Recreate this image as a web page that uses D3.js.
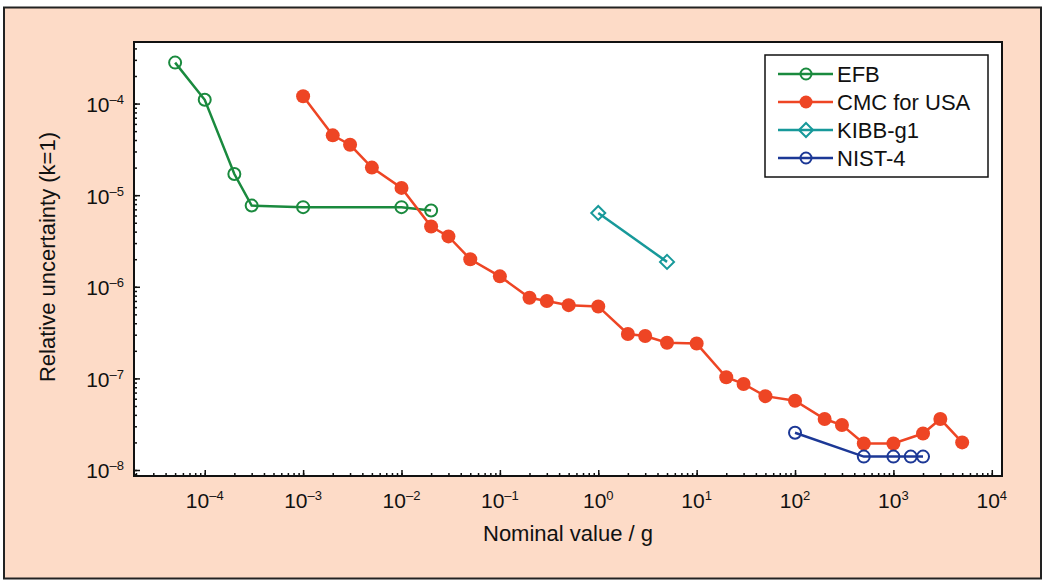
<!DOCTYPE html>
<html><head><meta charset="utf-8">
<script src="https://cdn.jsdelivr.net/npm/d3@7"></script>
<style>
html,body{margin:0;padding:0;background:#fff;}
text{font-family:"Liberation Sans",Arial,Helvetica,sans-serif;fill:#111;}
</style></head>
<body><svg id="c" width="1050" height="586"></svg>
<script>
// Data
const efbX = [5e-5, 1e-4, 2e-4, 3e-4, 1e-3, 1e-2, 2e-2];
const efbY = [2.8e-4, 1.1e-4, 1.7e-5, 7.7e-6, 7.4e-6, 7.4e-6, 6.8e-6];
const cmcX = [1e-3,2e-3,3e-3,5e-3,1e-2,2e-2,3e-2,5e-2,0.1,0.2,0.3,0.5,1,2,3,5,10,20,30,50,100,200,300,500,1000,2000,3000,5000];
const cmcY = [1.2e-4,4.5e-5,3.55e-5,2.0e-5,1.2e-5,4.55e-6,3.55e-6,2.0e-6,1.3e-6,7.6e-7,7.0e-7,6.3e-7,6.1e-7,3.05e-7,2.9e-7,2.45e-7,2.4e-7,1.03e-7,8.7e-8,6.4e-8,5.7e-8,3.6e-8,3.1e-8,1.95e-8,1.95e-8,2.5e-8,3.6e-8,2.0e-8];
const kibbX = [1, 5];
const kibbY = [6.4e-6, 1.87e-6];
const nistX = [100, 500, 1000, 1500, 2000];
const nistY = [2.55e-8, 1.4e-8, 1.4e-8, 1.4e-8, 1.4e-8];
const xTickExps = [-4,-3,-2,-1,0,1,2,3,4];
const yTickExps = [-4,-5,-6,-7,-8];
const seriesNames = ["EFB","CMC for USA","KIBB-g1","NIST-4"];

const svg = d3.select("#c");
const L=134, R=1002, T=42, B=476;
const x = d3.scaleLog().domain([1.91e-5, 1.27e4]).range([L,R]);
const y = d3.scaleLog().domain([8.6e-9, 4.7e-4]).range([B,T]);

// outer frame
svg.append("rect").attr("x",4).attr("y",7.5).attr("width",1037).attr("height",571)
  .attr("fill","#fddbc7").attr("stroke","#222").attr("stroke-width",2);
// plot area
svg.append("rect").attr("x",L).attr("y",T).attr("width",R-L).attr("height",B-T)
  .attr("fill","#fff");

const fmtMinus = e => (e<0 ? "\u2013"+(-e) : ""+e);

// x axis ticks (inward)
const xAxisG = svg.append("g").attr("transform",`translate(0,${B})`);
const xAll = x.ticks();
xAxisG.call(d3.axisBottom(x).tickValues(xAll).tickSize(-3).tickFormat(""))
  .call(g=>g.select(".domain").remove());
xAxisG.selectAll("line").attr("stroke","#111").attr("stroke-width",1.5);
const xMaj = svg.append("g").attr("transform",`translate(0,${B})`);
xMaj.call(d3.axisBottom(x).tickValues(xTickExps.map(e=>Math.pow(10,e))).tickSize(-6).tickFormat(""))
  .call(g=>g.select(".domain").remove());
xMaj.selectAll("line").attr("stroke","#111").attr("stroke-width",1.5);
xTickExps.forEach(e=>{
  const t = svg.append("text").attr("x",x(Math.pow(10,e))).attr("y",508)
    .attr("text-anchor","middle").attr("font-size",21);
  t.append("tspan").text("10");
  t.append("tspan").attr("dy",-8).attr("font-size",13).text(fmtMinus(e));
});

// y axis ticks (inward)
const yAxisG = svg.append("g").attr("transform",`translate(${L},0)`);
yAxisG.call(d3.axisLeft(y).tickValues(y.ticks()).tickSize(-3).tickFormat(""))
  .call(g=>g.select(".domain").remove());
yAxisG.selectAll("line").attr("stroke","#111").attr("stroke-width",1.5);
const yMaj = svg.append("g").attr("transform",`translate(${L},0)`);
yMaj.call(d3.axisLeft(y).tickValues(yTickExps.map(e=>Math.pow(10,e))).tickSize(-6).tickFormat(""))
  .call(g=>g.select(".domain").remove());
yMaj.selectAll("line").attr("stroke","#111").attr("stroke-width",1.5);
yTickExps.forEach(e=>{
  const t = svg.append("text").attr("x",124).attr("y",y(Math.pow(10,e))+8.5)
    .attr("text-anchor","end").attr("font-size",21);
  t.append("tspan").text("10");
  t.append("tspan").attr("dy",-8).attr("font-size",13).text(fmtMinus(e));
});

// axis titles
svg.append("text").attr("x",568).attr("y",541).attr("text-anchor","middle")
  .attr("font-size",22).text("Nominal value / g");
svg.append("text").attr("transform","translate(55,257) rotate(-90)").attr("text-anchor","middle")
  .attr("font-size",22).text("Relative uncertainty (k=1)");

// series
const series = [
  {name:seriesNames[0], xs:efbX, ys:efbY, color:"#1a8a3e", marker:"circleOpen"},
  {name:seriesNames[1], xs:cmcX, ys:cmcY, color:"#ee4524", marker:"circleFilled"},
  {name:seriesNames[2], xs:kibbX, ys:kibbY, color:"#17999a", marker:"diamond"},
  {name:seriesNames[3], xs:nistX, ys:nistY, color:"#1c3896", marker:"circleOpen"}
];
const line = d3.line().x(d=>x(d[0])).y(d=>y(d[1]));
function drawMarker(g, cx, cy, s, legend){
  if(s.marker==="circleFilled"){
    g.append("circle").attr("cx",cx).attr("cy",cy).attr("r",legend?6.5:7).attr("fill",s.color);
  } else if(s.marker==="circleOpen"){
    g.append("circle").attr("cx",cx).attr("cy",cy).attr("r",legend?5.5:6).attr("fill","none")
      .attr("stroke",s.color).attr("stroke-width",2);
  } else {
    const r=7;
    g.append("path").attr("d",`M${cx},${cy-r}L${cx+r},${cy}L${cx},${cy+r}L${cx-r},${cy}Z`)
      .attr("fill","none").attr("stroke",s.color).attr("stroke-width",2);
  }
}
series.forEach(s=>{
  const pts = s.xs.map((v,i)=>[v,s.ys[i]]);
  const g = svg.append("g");
  g.append("path").attr("d",line(pts)).attr("fill","none").attr("stroke",s.color).attr("stroke-width",2.5);
  pts.forEach(p=>drawMarker(g, x(p[0]), y(p[1]), s, false));
});

// plot frame
svg.append("rect").attr("x",L).attr("y",T).attr("width",R-L).attr("height",B-T)
  .attr("fill","none").attr("stroke","#111").attr("stroke-width",2);

// legend
const lg = svg.append("g");
lg.append("rect").attr("x",765).attr("y",55).attr("width",223).attr("height",122)
  .attr("fill","#fff").attr("stroke","#111").attr("stroke-width",1.5);
series.forEach((s,i)=>{
  const yy = 74 + i*28;
  lg.append("line").attr("x1",778).attr("x2",833).attr("y1",yy).attr("y2",yy)
    .attr("stroke",s.color).attr("stroke-width",2.5);
  drawMarker(lg, 806, yy, s, true);
  lg.append("text").attr("x",837).attr("y",yy+8).attr("font-size",22).text(s.name);
});
</script></body></html>
